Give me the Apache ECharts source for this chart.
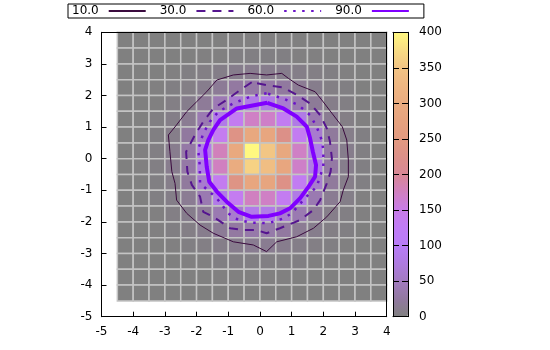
<!DOCTYPE html>
<html>
<head>
<meta charset="utf-8">
<script src="https://cdn.jsdelivr.net/npm/echarts@6/dist/echarts.min.js"></script>
<style>html,body{margin:0;padding:0;background:#fff;}#c{width:550px;height:350px;}</style>
</head>
<body>
<div id="c"></div>
<script>
// cell centres
var xCenters = [-4.25,-3.75,-3.25,-2.75,-2.25,-1.75,-1.25,-0.75,-0.25,0.25,0.75,1.25,1.75,2.25,2.75,3.25,3.75];
var yCenters = [3.75,3.25,2.75,2.25,1.75,1.25,0.75,0.25,-0.25,-0.75,-1.25,-1.75,-2.25,-2.75,-3.25,-3.75,-4.25];
// cell values, rows top to bottom
var z = [
 [0,0,0,0,0,0,0,1,1,1,1,0,0,0,0,0,0],
 [0,0,0,0,0,1,1,2,2,2,2,1,1,0,0,0,0],
 [0,0,0,1,2,4,6,9,11,10,9,6,4,2,1,0,0],
 [0,0,1,2,5,10,17,26,30,29,24,16,9,4,2,0,0],
 [0,0,1,4,9,19,40,64,82,80,62,38,18,8,3,1,0],
 [0,0,2,6,15,38,82,135,172,170,132,80,37,14,5,1,0],
 [0,0,2,8,24,62,136,232,290,285,225,134,62,22,8,2,0],
 [0,1,3,11,30,84,178,292,400,352,290,172,82,29,9,2,0],
 [0,1,3,11,30,82,175,300,365,340,286,170,80,28,9,2,0],
 [0,0,2,8,23,62,135,235,285,282,228,132,60,22,8,2,0],
 [0,0,2,6,15,38,82,136,175,172,134,80,38,14,6,1,0],
 [0,0,1,4,9,19,38,62,84,82,62,38,18,8,3,1,0],
 [0,0,1,2,5,10,17,26,32,32,25,16,9,4,2,0,0],
 [0,0,0,1,2,4,7,10,13,13,10,6,4,2,1,0,0],
 [0,0,0,0,1,1,2,3,3,3,3,2,1,1,0,0,0],
 [0,0,0,0,0,0,1,1,1,1,1,0,0,0,0,0,0],
 [0,0,0,0,0,0,0,0,0,0,0,0,0,0,0,0,0]
];
var contourLevels = ['10.0','30.0','60.0','90.0'];
var c10 = [[-0.31,2.70],[-0.84,2.65],[-1.36,2.49],[-1.68,2.12],[-2.0,1.80],[-2.31,1.49],[-2.63,1.07],[-2.89,0.75],[-2.84,0.22],[-2.78,-0.41],[-2.68,-0.78],[-2.63,-1.31],[-2.31,-1.73],[-1.89,-2.10],[-1.47,-2.36],[-0.84,-2.63],[-0.21,-2.73],[0.21,-2.94],[0.53,-2.63],[1.16,-2.47],[1.69,-2.20],[2.11,-1.84],[2.53,-1.36],[2.63,-0.99],[2.79,-0.57],[2.79,-0.04],[2.74,0.59],[2.60,1.01],[2.27,1.44],[1.95,1.86],[1.74,2.12],[1.21,2.33],[0.90,2.54],[0.69,2.70],[0.21,2.65],[-0.31,2.70]];
var c30 = [[-0.26,2.42],[-0.63,2.17],[-1.05,1.86],[-1.47,1.59],[-1.79,1.17],[-2.05,0.75],[-2.33,0.22],[-2.29,-0.41],[-2.15,-0.83],[-1.89,-1.20],[-1.79,-1.68],[-1.47,-1.84],[-0.94,-2.20],[-0.52,-2.26],[-0.10,-2.26],[0.21,-2.36],[0.63,-2.20],[1.27,-1.94],[1.69,-1.62],[1.90,-1.31],[2.11,-0.78],[2.23,-0.41],[2.27,0.01],[2.21,0.54],[2.11,0.96],[1.90,1.38],[1.58,1.75],[1.16,2.02],[0.74,2.25],[0.21,2.33],[-0.26,2.42]];
var c60 = [[0.21,2.07],[-0.26,1.98],[-0.84,1.75],[-1.31,1.49],[-1.58,1.17],[-1.79,0.80],[-1.95,0.28],[-1.90,-0.20],[-1.89,-0.78],[-1.36,-1.25],[-1.0,-1.73],[-0.68,-1.94],[-0.31,-2.02],[0.27,-2.04],[0.74,-1.89],[1.0,-1.73],[1.42,-1.25],[1.79,-0.89],[2.0,-0.25],[2.0,0.28],[1.95,0.59],[1.79,1.01],[1.58,1.38],[1.21,1.70],[0.74,1.90],[0.21,2.07]];
var c90 = [[0.23,1.77],[-0.73,1.59],[-1.26,1.22],[-1.47,0.91],[-1.63,0.59],[-1.73,0.28],[-1.68,-0.25],[-1.60,-0.73],[-1.36,-1.04],[-1.05,-1.36],[-0.68,-1.68],[-0.26,-1.84],[0.27,-1.81],[0.63,-1.73],[0.95,-1.57],[1.27,-1.25],[1.53,-0.89],[1.74,-0.57],[1.77,-0.20],[1.67,0.22],[1.58,0.65],[1.48,1.01],[1.16,1.33],[0.74,1.59],[0.23,1.77]];
var axisTicks = [-5,-4,-3,-2,-1,0,1,2,3,4];
var cbTicks = [0,50,100,150,200,250,300,350,400];

var cells = [];
for (var r = 0; r < yCenters.length; r++) {
  for (var c = 0; c < xCenters.length; c++) {
    cells.push([xCenters[c], yCenters[r], z[r][c]]);
  }
}
var halfW = (xCenters[1] - xCenters[0]) / 2;
var halfH = (yCenters[0] - yCenters[1]) / 2;

var FONT = 'DejaVu Sans';
var chart = echarts.init(document.getElementById('c'), null, {renderer: 'canvas'});

function mainAxis(pos, showLabel) {
  return {
    type: 'value', gridIndex: 0, position: pos,
    min: axisTicks[0], max: axisTicks[axisTicks.length - 1], interval: 1,
    z: 10,
    axisLine: {show: true, onZero: false, lineStyle: {color: '#000', width: 1}},
    axisTick: {show: showLabel, inside: true, length: 5, lineStyle: {color: '#000'}},
    axisLabel: {show: showLabel, margin: 9, fontSize: 12, fontFamily: FONT, color: '#000'},
    splitLine: {show: false}
  };
}
function cbAxisY(pos, showLabel) {
  return {
    type: 'value', gridIndex: 1, position: pos,
    min: cbTicks[0], max: cbTicks[cbTicks.length - 1], interval: 50,
    z: 10,
    axisLine: {show: true, onZero: false, lineStyle: {color: '#000', width: 1}},
    axisTick: {show: true, inside: true, length: 6, lineStyle: {color: '#000'}},
    axisLabel: {show: showLabel, margin: 11, fontSize: 12, fontFamily: FONT, color: '#000'},
    splitLine: {show: false}
  };
}
function cbAxisX(pos) {
  return {
    type: 'value', gridIndex: 1, position: pos, min: 0, max: 1, z: 10,
    axisLine: {show: true, onZero: false, lineStyle: {color: '#000', width: 1}},
    axisTick: {show: false}, axisLabel: {show: false}, splitLine: {show: false}
  };
}

var lineColors = ['#3a0a3e', '#55158f', '#6a14c8', '#8000ff'];
var lineWidths = [1, 2, 2.5, 4];
var lineTypes = ['solid', [9, 7], [2.5, 6.5], 'solid'];
var contourData = [c10, c30, c60, c90];

var series = [{
  type: 'custom', name: 'map', xAxisIndex: 0, yAxisIndex: 0, z: 2,
  encode: {x: 0, y: 1},
  data: cells,
  renderItem: function (params, api) {
    var x = api.value(0), y = api.value(1);
    var p1 = api.coord([x - halfW, y + halfH]);
    var p2 = api.coord([x + halfW, y - halfH]);
    var cs = params.coordSys;
    var rect = echarts.graphic.clipRectByRect(
      {x: p1[0], y: p1[1], width: p2[0] - p1[0], height: p2[1] - p1[1]},
      {x: cs.x, y: cs.y, width: cs.width, height: cs.height});
    if (!rect) return;
    return {type: 'rect', shape: rect, style: {fill: api.visual('color'), stroke: '#c4c4c4', lineWidth: 1.5}};
  }
}];
for (var k = 0; k < contourLevels.length; k++) {
  series.push({
    type: 'line', name: contourLevels[k], xAxisIndex: 0, yAxisIndex: 0,
    data: contourData[k], symbol: 'none', showSymbol: false, smooth: false, z: 5, clip: true,
    color: lineColors[k],
    lineStyle: {color: lineColors[k], width: lineWidths[k], type: lineTypes[k]},
    itemStyle: {color: lineColors[k]}
  });
}

chart.setOption({
  animation: false,
  backgroundColor: '#fff',
  textStyle: {fontFamily: FONT},
  grid: [
    {left: 101.5, top: 32.3, width: 285.2, height: 284.4, containLabel: false},
    {left: 393, top: 32.3, width: 15, height: 284.4, containLabel: false}
  ],
  xAxis: [mainAxis('bottom', true), mainAxis('top', false), cbAxisX('bottom'), cbAxisX('top')],
  yAxis: [mainAxis('left', true), mainAxis('right', false), cbAxisY('right', true), cbAxisY('left', false)],
  legend: {
    data: contourLevels, left: 68, top: 4, align: 'right', orient: 'horizontal',
    itemWidth: 37, itemHeight: 10, itemGap: 13,
    itemStyle: {opacity: 0, color: 'rgba(0,0,0,0)', borderWidth: 0},
    borderColor: '#000', borderWidth: 1, padding: [1, 14, 1, 4], borderRadius: 0,
    textStyle: {fontSize: 12, fontFamily: FONT, color: '#000', padding: [0, 5, 0, 0]},
    selectedMode: false
  },
  visualMap: {
    type: 'continuous', min: 0, max: 400, seriesIndex: 0, dimension: 2,
    orient: 'vertical', left: 393, top: 32.3, itemWidth: 15, itemHeight: 284.4,
    padding: 0, calculable: false, text: null, hoverLink: false,
    inRange: {color: ['#808080','#9279a0','#a27bc0','#ae7be0','#b87cf8','#c07cf6','#c87ce8','#d080c0','#d88896','#dc9088','#e29a80','#e6a27e','#eaac80','#eeb682','#f2c484','#f8dc84','#fff880']}
  },
  series: series
});
</script>
</body>
</html>
